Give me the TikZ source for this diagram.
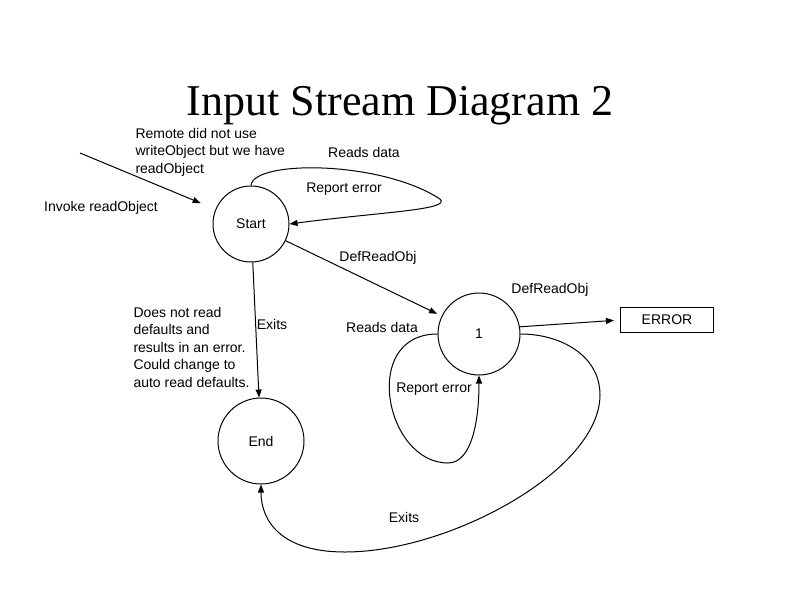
\documentclass[tikz,border=0pt]{standalone}
\usepackage{fontspec}
\setmainfont{Liberation Sans}
\newfontfamily\titlefont{Liberation Serif}
\usetikzlibrary{arrows.meta}

\begin{document}
\begin{tikzpicture}[
  x=1pt,y=-1pt,
  line width=1pt,
  state/.style={circle,draw,inner sep=0pt,font=\fontsize{14}{17.5}\selectfont},
  edge/.style={-{Triangle[length=8pt,width=6pt]}},
  lbl/.style={inner sep=0pt,font=\fontsize{14}{17.5}\selectfont},
  note/.style={lbl,align=left,anchor=west}
]
  \useasboundingbox (0,0) rectangle (800,600);
  \node[font=\titlefont\fontsize{44}{48}\selectfont,anchor=base] (title) at (400,115) {Input Stream Diagram 2};

  \node[state,minimum size=76pt] (start) at (251,224) {Start};
  \node[state,minimum size=82pt] (one) at (479,334) {1};
  \node[state,minimum size=86pt] (end) at (261,441) {End};
  \node[lbl,draw,minimum width=93pt,minimum height=25pt] (err) at (667,320) {ERROR};
  \coordinate (inv) at (80,153);

  % labels
  \node[note] (remote) at (135,152) {Remote did not use\\writeObject but we have\\readObject};
  \node[note] (nodefault) at (133,347) {Does not read\\defaults and\\results in an error.\\Could change to\\auto read defaults.};
  \node[lbl] (invoke) at (101,208) {Invoke readObject};
  \node[lbl] (rdtop) at (364,152) {Reads data};
  \node[lbl] (retop) at (344,189) {Report error};
  \node[lbl] (drmid) at (378,258) {DefReadObj};
  \node[lbl] (drright) at (550,290) {DefReadObj};
  \node[lbl] (exmid) at (272,324) {Exits};
  \node[lbl] (rdmid) at (382,327) {Reads data};
  \node[lbl] (relow) at (434,389) {Report error};
  \node[lbl] (exlow) at (404,517) {Exits};

  \draw[edge,shorten >=16pt] (inv)--(start);
  \draw[edge] (start.north) .. controls (253,160) and (380,160) .. (440,199)
    .. controls (452,210) and (380,212) .. (start.east);
  \draw[edge,shorten >=5pt] (start)--(one);
  \draw[edge] (start)--(end);
  \draw[edge,shorten >=6pt] (one.10)--(err.west);
  \draw[edge] (one.west) .. controls (360,334) and (385,463) .. (448,463)
    .. controls (472,463) and (479,420) .. (one.south);
  \draw[edge] (one.east) .. controls (560,334) and (600,355) .. (600,395)
    .. controls (600,470) and (450,552) .. (345,552)
    .. controls (280,552) and (261,520) .. (end.south);
\end{tikzpicture}
\end{document}
